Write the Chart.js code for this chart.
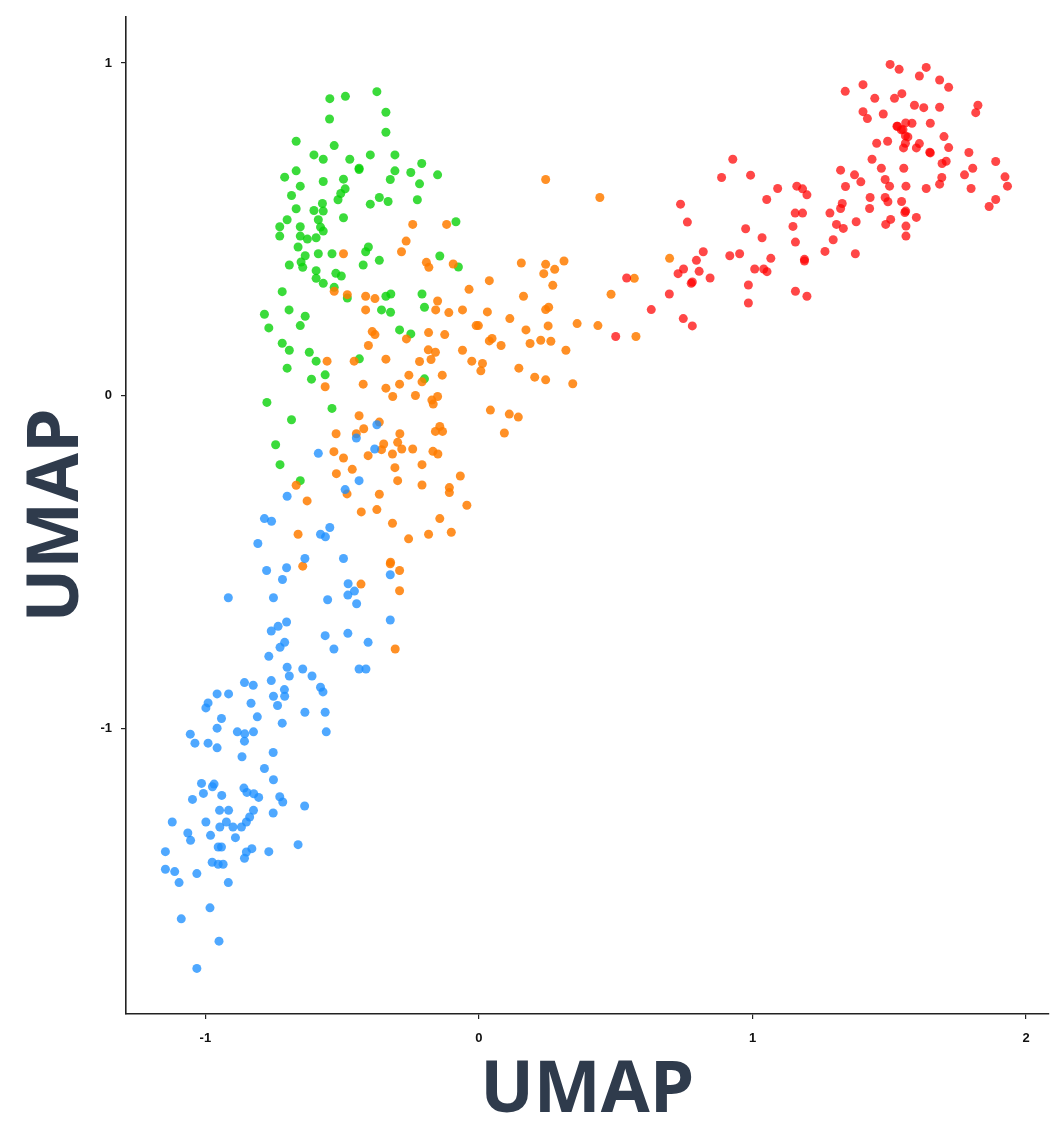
<!DOCTYPE html>
<html>
<head>
<meta charset="utf-8">
<script src="https://cdn.jsdelivr.net/npm/chart.js@4.4.1/dist/chart.umd.min.js"></script>
<style>
  html, body { margin: 0; padding: 0; background: #fff; }
  #wrap { width: 1053px; height: 1121px; }
</style>
</head>
<body>
<div id="wrap"><canvas id="myChart" width="1053" height="1121"></canvas></div>
<script>
// axis settings
const xTicks = [-1, 0, 1, 2]
const yTicks = [-1, 0, 1]
const axisTitle = 'UMAP'

// cluster points [x, y]
const green = [
  [-0.545,0.893],[-0.488,0.900],[-0.373,0.914],[-0.340,0.852],[-0.546,0.832],[-0.340,0.792],[-0.668,0.765],[-0.529,0.752],
  [-0.603,0.724],[-0.569,0.711],[-0.472,0.711],[-0.397,0.724],[-0.307,0.724],[-0.438,0.680],[-0.438,0.684],[-0.209,0.698],[-0.668,0.676],
  [-0.307,0.676],[-0.249,0.671],[-0.151,0.664],[-0.710,0.657],[-0.569,0.644],[-0.495,0.651],[-0.324,0.650],[-0.217,0.637],
  [-0.653,0.630],[-0.489,0.622],[-0.505,0.608],[-0.685,0.602],[-0.515,0.589],[-0.364,0.596],[-0.332,0.584],[-0.397,0.576],
  [-0.225,0.589],[-0.572,0.578],[-0.668,0.562],[-0.603,0.557],[-0.569,0.555],[-0.495,0.535],[-0.701,0.529],[-0.587,0.529],
  [-0.728,0.508],[-0.653,0.508],[-0.579,0.507],[-0.084,0.523],[-0.728,0.480],[-0.653,0.480],[-0.627,0.471],[-0.595,0.475],
  [-0.569,0.495],[-0.661,0.447],[-0.635,0.421],[-0.587,0.427],[-0.537,0.427],[-0.693,0.393],[-0.650,0.402],[-0.644,0.386],
  [-0.404,0.447],[-0.414,0.433],[-0.364,0.407],[-0.423,0.393],[-0.143,0.420],[-0.075,0.387],[-0.595,0.376],[-0.595,0.353],
  [-0.523,0.368],[-0.503,0.360],[-0.569,0.338],[-0.529,0.326],[-0.719,0.313],[-0.481,0.294],[-0.340,0.299],[-0.322,0.306],
  [-0.208,0.306],[-0.199,0.266],[-0.356,0.258],[-0.323,0.251],[-0.694,0.258],[-0.784,0.245],[-0.635,0.239],[-0.768,0.204],
  [-0.653,0.211],[-0.290,0.198],[-0.249,0.186],[-0.719,0.158],[-0.693,0.137],[-0.620,0.131],[-0.595,0.104],[-0.437,0.111],
  [-0.701,0.083],[-0.562,0.063],[-0.612,0.050],[-0.199,0.051],[-0.775,-0.020],[-0.537,-0.038],[-0.685,-0.072],[-0.743,-0.147],
  [-0.727,-0.207],[-0.653,-0.255]
]

const orange = [
  [-0.242,0.515],[-0.118,0.515],[-0.266,0.465],[-0.283,0.433],[-0.495,0.427],[-0.192,0.401],[-0.183,0.386],[-0.094,0.396],
  [-0.036,0.320],[-0.529,0.314],[-0.481,0.304],[-0.414,0.299],[-0.380,0.292],[-0.414,0.258],[-0.151,0.285],[-0.158,0.258],
  [-0.110,0.250],[-0.060,0.258],[-0.010,0.211],[-0.390,0.193],[-0.380,0.184],[-0.265,0.171],[-0.184,0.190],[-0.125,0.184],
  [-0.404,0.151],[-0.185,0.138],[-0.159,0.131],[-0.175,0.109],[-0.060,0.137],[-0.555,0.104],[-0.456,0.104],[-0.340,0.110],
  [-0.217,0.103],[-0.026,0.104],[-0.256,0.062],[-0.134,0.062],[-0.208,0.042],[-0.423,0.035],[-0.340,0.023],[-0.290,0.035],
  [-0.562,0.027],[-0.315,-0.002],[-0.232,0.001],[-0.151,-0.002],[-0.172,-0.013],[-0.167,-0.025],[-0.438,-0.060],[-0.364,-0.079],
  [-0.421,-0.099],[-0.522,-0.114],[-0.448,-0.114],[-0.289,-0.114],[-0.143,-0.092],[-0.159,-0.107],[-0.133,-0.107],[-0.348,-0.145],
  [-0.297,-0.140],[-0.356,-0.162],[-0.282,-0.160],[-0.316,-0.175],[-0.242,-0.160],[-0.168,-0.167],[-0.150,-0.175],[-0.530,-0.168],
  [-0.495,-0.187],[-0.405,-0.180],[-0.463,-0.221],[-0.307,-0.216],[-0.208,-0.207],[-0.521,-0.234],[-0.068,-0.241],[-0.297,-0.255],
  [-0.668,-0.269],[-0.208,-0.268],[-0.108,-0.276],[-0.108,-0.291],[-0.482,-0.295],[-0.364,-0.296],[-0.628,-0.316],[-0.044,-0.329],
  [-0.430,-0.349],[-0.373,-0.342],[-0.316,-0.383],[-0.143,-0.369],[-0.661,-0.416],[-0.257,-0.430],[-0.184,-0.416],[-0.101,-0.410],
  [-0.323,-0.500],[-0.644,-0.512],[-0.324,-0.505],[-0.290,-0.525],[-0.431,-0.566],[-0.290,-0.586],[-0.306,-0.761],
  [0.244,0.650],[0.442,0.596],[0.155,0.399],[0.244,0.395],[0.311,0.405],[0.277,0.380],[0.237,0.367],[0.038,0.346],
  [0.270,0.332],[0.163,0.299],[0.483,0.305],[0.568,0.353],[0.697,0.413],[0.031,0.252],[0.244,0.259],[0.255,0.266],
  [0.113,0.232],[-0.002,0.211],[0.172,0.198],[0.253,0.210],[0.359,0.217],[0.435,0.211],[0.038,0.165],[0.048,0.172],
  [0.081,0.151],[0.187,0.157],[0.226,0.167],[0.263,0.164],[0.574,0.178],[0.318,0.137],[0.013,0.097],[0.007,0.075],
  [0.146,0.083],[0.204,0.056],[0.244,0.048],[0.343,0.036],[0.042,-0.043],[0.093,-0.112],[0.111,-0.055],[0.144,-0.064]
]

const blue = [
  [-0.373,-0.087],[-0.448,-0.127],[-0.381,-0.160],[-0.587,-0.173],[-0.438,-0.255],[-0.489,-0.282],[-0.701,-0.302],[-0.784,-0.369],
  [-0.758,-0.377],[-0.545,-0.396],[-0.579,-0.416],[-0.561,-0.424],[-0.808,-0.444],[-0.636,-0.489],[-0.495,-0.489],[-0.776,-0.525],
  [-0.703,-0.517],[-0.718,-0.552],[-0.324,-0.538],[-0.478,-0.565],[-0.455,-0.587],[-0.479,-0.599],[-0.447,-0.625],[-0.916,-0.607],
  [-0.751,-0.607],[-0.553,-0.613],[-0.324,-0.674],[-0.703,-0.680],[-0.734,-0.693],[-0.759,-0.707],[-0.562,-0.721],[-0.479,-0.714],
  [-0.405,-0.741],[-0.710,-0.741],[-0.727,-0.756],[-0.530,-0.761],[-0.768,-0.783],[-0.701,-0.816],[-0.644,-0.821],[-0.438,-0.821],
  [-0.413,-0.821],[-0.693,-0.842],[-0.610,-0.842],[-0.857,-0.862],[-0.825,-0.870],[-0.759,-0.856],[-0.711,-0.883],[-0.579,-0.876],
  [-0.570,-0.890],[-0.957,-0.896],[-0.915,-0.896],[-0.751,-0.903],[-0.710,-0.903],[-0.736,-0.931],[-0.990,-0.923],[-0.998,-0.938],
  [-0.833,-0.924],[-0.636,-0.951],[-0.562,-0.951],[-0.941,-0.970],[-0.810,-0.965],[-0.719,-0.984],[-0.957,-0.999],[-1.055,-1.017],
  [-0.883,-1.010],[-0.856,-1.016],[-0.824,-1.010],[-0.558,-1.010],[-0.857,-1.038],[-1.038,-1.044],[-0.990,-1.044],[-0.957,-1.058],
  [-0.752,-1.072],[-0.866,-1.085],[-0.784,-1.120],[-0.751,-1.154],[-1.014,-1.165],[-0.968,-1.167],[-0.974,-1.175],[-0.859,-1.179],
  [-0.848,-1.192],[-0.823,-1.196],[-0.805,-1.207],[-1.007,-1.195],[-0.940,-1.201],[-1.047,-1.213],[-0.728,-1.205],[-0.717,-1.221],
  [-0.637,-1.233],[-0.948,-1.246],[-0.915,-1.246],[-0.824,-1.246],[-0.752,-1.254],[-0.838,-1.266],[-0.998,-1.281],[-1.121,-1.281],
  [-0.923,-1.281],[-0.850,-1.281],[-0.947,-1.296],[-0.899,-1.296],[-0.868,-1.296],[-1.064,-1.314],[-1.054,-1.336],[-0.981,-1.321],
  [-0.890,-1.328],[-1.146,-1.370],[-0.953,-1.356],[-0.941,-1.356],[-0.830,-1.361],[-0.850,-1.371],[-0.857,-1.390],[-0.768,-1.370],
  [-0.661,-1.349],[-0.975,-1.402],[-0.953,-1.408],[-0.935,-1.408],[-1.146,-1.423],[-1.112,-1.430],[-1.031,-1.436],[-1.096,-1.463],
  [-0.916,-1.463],[-0.983,-1.539],[-1.088,-1.572],[-0.950,-1.639],[-1.031,-1.721]
]

const red = [
  [1.503,0.996],[1.536,0.981],[1.635,0.987],[1.610,0.961],[1.684,0.949],[1.717,0.927],[1.404,0.935],[1.339,0.915],
  [1.447,0.894],[1.519,0.894],[1.546,0.908],[1.592,0.873],[1.626,0.866],[1.684,0.867],[1.824,0.873],[1.816,0.851],
  [1.404,0.854],[1.420,0.833],[1.478,0.847],[1.528,0.810],[1.544,0.799],[1.583,0.819],[1.650,0.819],[1.559,0.781],
  [1.568,0.778],[1.700,0.779],[1.454,0.759],[1.494,0.765],[1.559,0.759],[1.610,0.758],[1.599,0.745],[1.552,0.745],
  [1.717,0.746],[1.648,0.732],[1.791,0.731],[1.437,0.711],[1.693,0.698],[1.708,0.705],[1.889,0.704],[1.471,0.684],
  [1.553,0.684],[1.805,0.684],[1.322,0.678],[1.373,0.664],[1.396,0.643],[1.485,0.650],[1.501,0.630],[1.561,0.630],
  [1.635,0.623],[1.684,0.636],[1.692,0.656],[1.775,0.664],[1.799,0.623],[1.923,0.658],[1.932,0.630],[1.340,0.629],
  [1.430,0.596],[1.485,0.596],[1.495,0.583],[1.545,0.584],[1.557,0.551],[1.599,0.536],[1.889,0.590],[1.865,0.569],
  [1.428,0.563],[1.328,0.578],[1.322,0.563],[1.283,0.549],[1.379,0.523],[1.307,0.515],[1.332,0.503],[1.487,0.515],
  [1.505,0.530],[1.561,0.510],[1.561,0.480],[1.295,0.469],[1.530,0.810],[1.550,0.800],[1.560,0.820],[1.650,0.730],
  [1.560,0.555],[0.928,0.711],[0.887,0.656],[0.993,0.663],[1.092,0.623],[0.737,0.576],[0.762,0.522],[1.052,0.590],
  [1.162,0.630],[1.183,0.622],[1.199,0.604],[1.156,0.549],[1.183,0.549],[1.148,0.509],[0.975,0.502],[1.035,0.475],
  [1.157,0.462],[1.265,0.434],[1.376,0.427],[0.953,0.427],[0.917,0.421],[1.067,0.413],[1.190,0.410],[1.190,0.405],
  [1.008,0.381],[1.041,0.381],[1.053,0.373],[0.985,0.333],[0.985,0.279],[1.157,0.314],[1.199,0.299],[0.820,0.433],
  [0.795,0.407],[0.748,0.381],[0.728,0.367],[0.805,0.374],[0.780,0.342],[0.776,0.338],[0.845,0.354],[0.540,0.354],
  [0.696,0.306],[0.630,0.259],[0.747,0.232],[0.780,0.210],[0.500,0.178]
]

const toPts = arr => arr.map(p => ({ x: p[0], y: p[1] }))

const tickFont = { family: 'Liberation Sans', size: 13, weight: 'bold' }
const titleFont = { family: 'Open Sans', size: 71, weight: 'bold', lineHeight: 1 }
const titleColor = '#2f3b4c'

const ctx = document.getElementById('myChart')
new Chart(ctx, {
    type: 'scatter',
    data: {
        datasets: [
            { label: 'red', data: toPts(red), backgroundColor: 'rgba(255, 0, 0, 0.72)' },
            { label: 'blue', data: toPts(blue), backgroundColor: 'rgba(30, 144, 255, 0.78)' },
            { label: 'orange', data: toPts(orange), backgroundColor: 'rgba(255, 125, 0, 0.85)' },
            { label: 'green', data: toPts(green), backgroundColor: 'rgba(10, 210, 10, 0.8)' }
        ]
    },
    options: {
        responsive: false,
        animation: false,
        events: [],
        layout: { padding: { top: 11, right: 0, left: 0, bottom: 0 } },
        elements: { point: { radius: 4.5, borderWidth: 0 } },
        plugins: { legend: { display: false }, tooltip: { enabled: false } },
        scales: {
            x: {
                type: 'linear',
                min: -1.29,
                max: 2.082,
                afterBuildTicks: axis => { axis.ticks = xTicks.map(v => ({ value: v })) },
                afterFit: axis => { axis.height = 107 },
                grid: { drawOnChartArea: false, drawTicks: true, tickLength: 5, color: '#222', lineWidth: 1.2 },
                border: { display: true, color: '#222', width: 1.6 },
                ticks: { color: '#111', font: tickFont, padding: 12, maxRotation: 0 },
                title: { display: true, text: axisTitle, color: titleColor, font: titleFont, padding: { top: 0, bottom: -6 } }
            },
            y: {
                type: 'linear',
                min: -1.858,
                max: 1.139,
                afterBuildTicks: axis => { axis.ticks = yTicks.map(v => ({ value: v })) },
                afterFit: axis => { axis.width = 126 },
                grid: { drawOnChartArea: false, drawTicks: true, tickLength: 5, color: '#222', lineWidth: 1.2 },
                border: { display: true, color: '#222', width: 1.6 },
                ticks: { color: '#111', font: tickFont, padding: 9 },
                title: { display: true, text: axisTitle, color: titleColor, font: titleFont, padding: { top: 22, bottom: 0 } }
            }
        }
    }
});
</script>
</body>
</html>
